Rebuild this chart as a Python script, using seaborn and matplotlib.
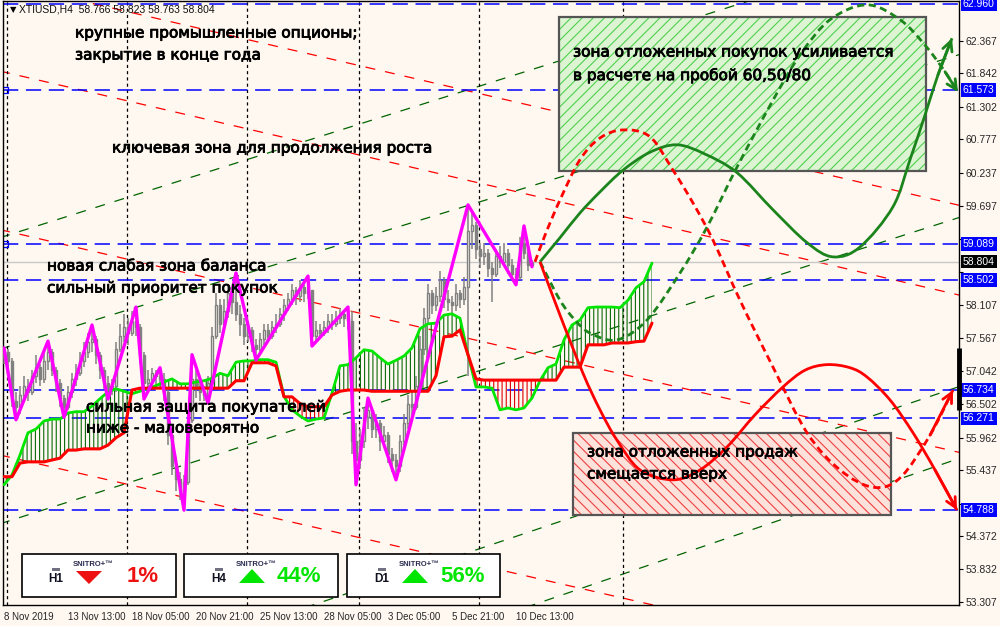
import matplotlib
matplotlib.use("Agg")
import matplotlib.pyplot as plt
import matplotlib.transforms as mtransforms
import matplotlib.patheffects as pe
from matplotlib.patches import Rectangle, Polygon, PathPatch
from matplotlib.path import Path
import numpy as np
import seaborn as sns

# ---------------- data ----------------
symbol_header = "XTIUSD,H4  58.766 58.823 58.763 58.804"

# H4 candles (bar index = position), open of each bar = previous close
first_open = 57.25
closes = [57.35, 57.20, 56.55, 56.45, 56.65, 56.80, 56.70, 56.95, 57.10, 56.90,
          57.20, 57.35, 57.05, 56.85, 56.60, 56.45, 56.70, 56.90, 57.00, 57.20,
          57.35, 57.50, 57.55, 57.30, 57.05, 56.85, 56.75, 56.80, 57.40, 57.60,
          57.75, 57.65, 57.85, 57.75, 57.30, 56.85, 56.90, 57.00, 56.95, 56.90,
          56.70, 56.00, 55.50, 55.30, 55.10, 55.25, 56.25, 56.90, 56.80, 56.70,
          56.65, 56.85, 57.60, 58.10, 57.80, 58.00, 58.30, 58.15, 57.95, 57.80,
          57.60, 57.70, 57.45, 57.40, 57.55, 57.70, 57.60, 57.75, 57.80, 57.95,
          58.10, 58.20, 58.35, 58.25, 58.40, 58.30, 58.35, 57.60, 57.70, 57.65,
          57.75, 57.85, 57.80, 57.90, 57.95, 57.90, 57.85, 55.90, 55.60, 55.90,
          56.30, 56.40, 56.10, 56.20, 55.90, 56.00, 55.70, 55.60, 55.50, 55.90,
          56.20, 56.50, 56.45, 56.80, 57.40, 57.90, 58.30, 58.10, 58.25, 58.50,
          58.20, 58.15, 58.10, 58.30, 58.20, 58.40, 59.30, 59.40, 59.00, 58.90,
          58.95, 58.70, 58.60, 58.90, 58.80, 58.95, 58.75, 58.60, 58.55, 59.10,
          58.95, 58.75, 58.804]
highs = [57.41, 57.40, 57.25, 56.70, 56.80, 56.95, 56.90, 57.05, 57.30, 57.15,
         57.35, 57.52, 57.40, 57.10, 56.90, 56.65, 56.80, 57.00, 57.15, 57.35,
         57.50, 57.65, 57.78, 57.60, 57.35, 57.10, 56.95, 56.90, 57.50, 57.80,
         57.95, 57.90, 58.00, 58.07, 57.80, 57.35, 57.05, 57.09, 57.05, 57.09,
         57.00, 56.75, 56.05, 55.65, 55.40, 55.35, 56.40, 57.30, 57.05, 56.90,
         56.80, 56.95, 57.75, 58.30, 58.20, 58.20, 58.45, 58.40, 58.62, 58.10,
         57.90, 57.85, 57.75, 57.55, 57.65, 57.80, 57.80, 57.85, 57.95, 58.05,
         58.20, 58.30, 58.45, 58.40, 58.50, 58.45, 58.57, 58.30, 57.85, 57.80,
         57.85, 57.95, 57.95, 58.00, 58.05, 58.00, 58.07, 58.00, 56.20, 56.10,
         56.45, 56.60, 56.45, 56.35, 56.25, 56.15, 56.05, 55.80, 55.70, 56.00,
         56.35, 56.65, 56.70, 56.95, 57.60, 58.05, 58.45, 58.35, 58.40, 58.65,
         58.55, 58.35, 58.25, 58.45, 58.35, 58.55, 59.72, 59.60, 59.45, 59.10,
         59.10, 59.00, 58.80, 59.00, 59.05, 59.10, 59.00, 58.85, 58.70, 59.20,
         59.38, 59.00, 58.823]
lows = [57.15, 57.00, 56.45, 56.25, 56.35, 56.55, 56.55, 56.65, 56.85, 56.80,
        56.85, 57.05, 56.95, 56.70, 56.45, 56.29, 56.40, 56.60, 56.80, 56.95,
        57.10, 57.25, 57.35, 57.15, 56.90, 56.75, 56.585, 56.65, 56.70, 57.35,
        57.50, 57.45, 57.60, 57.60, 57.15, 56.585, 56.70, 56.80, 56.80, 56.75,
        56.55, 55.85, 55.35, 55.10, 54.95, 54.79, 55.20, 56.20, 56.60, 56.55,
        56.55, 56.52, 56.80, 57.55, 57.65, 57.70, 57.90, 57.95, 57.85, 57.60,
        57.45, 57.50, 57.35, 57.215, 57.30, 57.45, 57.50, 57.55, 57.65, 57.75,
        57.85, 58.00, 58.10, 58.10, 58.15, 58.15, 58.20, 57.44, 57.50, 57.55,
        57.60, 57.65, 57.70, 57.75, 57.80, 57.75, 57.70, 55.70, 55.20, 55.45,
        55.80, 56.10, 55.95, 55.95, 55.75, 55.80, 55.55, 55.40, 55.28, 55.40,
        55.80, 56.10, 56.30, 56.40, 56.70, 57.30, 57.80, 57.95, 58.00, 58.15,
        58.05, 58.00, 57.95, 58.00, 58.05, 58.10, 56.95, 59.00, 58.85, 58.70,
        58.75, 58.55, 58.15, 58.55, 58.70, 58.75, 58.60, 58.50, 58.43, 58.50,
        58.85, 58.65, 58.72]

# zigzag pivots
zz_bar = [0, 3, 11, 15, 22, 26, 33, 35, 39, 45, 47, 51, 58, 63, 76, 77, 86, 88,
          91, 98, 116, 128, 130, 132]
zz_price = [57.41, 56.25, 57.52, 56.29, 57.78, 56.585, 58.07, 56.585, 57.09,
            54.79, 57.30, 56.52, 58.62, 57.215, 58.57, 57.44, 58.07, 55.20,
            56.60, 55.28, 59.72, 58.43, 59.38, 58.72]

# cloud spans, every 2nd bar from bar 0 to bar 162
span_bars = list(range(0, 163, 2))
span_green = [55.20, 55.36, 55.68, 56.04, 56.10, 56.23, 56.26, 56.26, 56.36, 56.38,
              56.38, 56.47, 56.59, 56.70, 56.75, 56.71, 56.67, 56.71, 56.76, 56.80,
              56.86, 56.91, 56.83, 56.83, 56.86, 56.88, 56.92, 57.00, 56.96, 57.18,
              57.20, 57.20, 57.22, 57.22, 57.18, 56.63, 56.41, 56.31, 56.23, 56.26,
              56.28, 56.68, 57.12, 57.14, 57.25, 57.38, 57.36, 57.25, 57.15, 57.21,
              57.28, 57.41, 57.72, 57.80, 57.81, 57.94, 57.96, 57.89, 57.30, 56.78,
              56.78, 56.76, 56.41, 56.44, 56.41, 56.44, 56.60, 56.88, 57.09, 57.15,
              57.54, 57.78, 57.86, 58.06, 58.07, 58.07, 58.07, 58.06, 58.18, 58.38,
              58.48, 58.78]
span_red = [55.33, 55.33, 55.55, 55.57, 55.57, 55.57, 55.60, 55.63, 55.76, 55.76,
            55.78, 55.78, 55.78, 55.84, 55.96, 56.04, 56.73, 56.76, 56.76, 56.76,
            56.76, 56.76, 56.76, 56.76, 56.76, 56.76, 56.76, 56.76, 56.76, 56.88,
            56.88, 57.17, 57.17, 57.17, 57.12, 56.62, 56.62, 56.51, 56.46, 56.46,
            56.46, 56.65, 56.71, 56.73, 56.73, 56.73, 56.71, 56.71, 56.71, 56.71,
            56.71, 56.71, 56.71, 56.71, 56.96, 57.59, 57.60, 57.70, 57.30, 56.91,
            56.89, 56.89, 56.89, 56.89, 56.89, 56.89, 56.89, 56.89, 56.89, 56.89,
            57.10, 57.10, 57.10, 57.46, 57.46, 57.46, 57.49, 57.49, 57.49, 57.51,
            57.52, 57.81]

# horizontal levels
blue_levels = [62.960, 61.573, 59.089, 58.502, 56.734, 56.271, 54.788]
last_price = 58.804
price_ticks = [62.367, 61.842, 61.302, 60.777, 60.237, 59.697, 59.172, 58.632,
               58.107, 57.567, 57.042, 56.502, 55.962, 55.437, 54.897, 54.372,
               53.832, 53.307]
covered_ticks = [59.172, 58.632, 54.897]   # hidden behind the level boxes

# channel lines: price at bar -1 and at bar 239
chan_bars = [-1, 239]
green_channels = [(59.19, 64.09), (57.39, 62.15), (54.57, 59.52),
                  (51.55, 56.79), (50.30, 55.63)]
red_channels = [(63.32, 59.71), (61.88, 58.26), (59.32, 55.72), (55.68, 52.12)]

# weekly separators (bar positions)
separators = [0.75, 30.75, 60.75, 88.75, 118.75, 154.75]

# time axis
time_ticks = [0, 16, 32, 48, 64, 80, 96, 112, 128]
time_labels = ["8 Nov 2019", "13 Nov 13:00", "18 Nov 05:00", "20 Nov 21:00",
               "25 Nov 13:00", "28 Nov 05:00", "3 Dec 05:00", "5 Dec 21:00",
               "10 Dec 13:00"]

# forecast scenarios
fc_green_bar = [134, 139, 144, 149, 154.75, 161.5, 168.25, 175.25, 183.25, 192.25,
                200.75, 207.25, 214, 222.25, 226.5, 230.25, 233.5, 237]
fc_green = [58.80, 59.19, 59.59, 59.93, 60.28, 60.57, 60.69, 60.54, 60.24, 59.64,
            59.11, 58.88, 59.04, 59.69, 60.45, 61.17, 61.82, 62.41]
fc_green_alt_bar = [134, 139, 142.75, 146.5, 153.25, 160.75, 169, 175.75, 183.25,
                    192.25, 199, 206.5, 215.75, 224, 230.25, 235.25, 238.5]
fc_green_alt = [58.80, 58.18, 57.86, 57.65, 57.54, 57.86, 58.62, 59.36, 60.33,
                61.41, 62.14, 62.71, 62.95, 62.71, 62.30, 61.87, 61.54]
fc_red_bar = [134, 139, 144.75, 149, 153.25, 159, 167.25, 174, 180.75, 187.75,
              194.75, 200.25, 205.75, 211.5, 215.75, 221.5, 227.25, 232.75, 238.25]
fc_red = [58.80, 57.94, 57.00, 56.41, 55.92, 55.44, 55.28, 55.44, 55.81, 56.33,
          56.78, 57.05, 57.14, 57.09, 56.94, 56.57, 56.04, 55.44, 54.79]
fc_red_alt_bar = [132.75, 135.25, 139, 144, 149, 154.75, 161.5, 167.25, 172.25,
                  177.25, 184, 192.25, 200.75, 209, 217.25, 224, 231.5, 237.25]
fc_red_alt = [58.80, 59.23, 59.80, 60.45, 60.80, 60.93, 60.82, 60.28, 59.75,
              59.15, 58.18, 57.10, 56.04, 55.44, 55.16, 55.31, 56.00, 56.73]

# zones: (bar_from, bar_to, price_low, price_high)
buy_zone = (138.75, 230.5, 60.27, 62.75)
sell_zone = (142.25, 221.75, 54.71, 56.04)

# signal panels
panel_tf = ["H1", "H4", "D1"]
panel_pct = ["1%", "44%", "56%"]
panel_up = [False, True, True]

# ---------------- style ----------------
sns.set_style("white")
plt.rcParams["font.family"] = ["DejaVu Sans"]
plt.rcParams["hatch.linewidth"] = 0.8

BG = "#fff8f0"
BLUE = "#0000ff"
GREEN = "#1c841c"
CH_GREEN = "#006400"
RED = "#ff0000"
GRAY = "#808080"
LIME = "#00e600"

fig = plt.figure(figsize=(10, 6.26), dpi=100, facecolor=BG)
ax = fig.add_axes([0.003, 0.0335, 0.956, 0.965])
ax.set_facecolor(BG)
ax.set_xlim(-0.25, 238.75)
ax.set_ylim(53.258, 63.013)

# channels
for a, b in green_channels:
    ax.plot(chan_bars, [a, b], color=CH_GREEN, lw=0.9, dashes=(8, 8), zorder=1)
for a, b in red_channels:
    ax.plot(chan_bars, [a, b], color=RED, lw=0.9, dashes=(8, 8), zorder=1)

# separators
for s in separators:
    ax.axvline(s, color="black", lw=0.9, dashes=(2.5, 2.5), zorder=1)

# levels
for lv in blue_levels:
    ax.axhline(lv, color=BLUE, lw=1.1, dashes=(10, 5), zorder=1.2)
ax.axhline(last_price, color="#c8c8c8", lw=1, zorder=1.1)
for lv in (61.573, 59.089):
    ax.plot([0.25], [lv], marker="s", ms=4, mfc="none", mec=BLUE, mew=0.9, zorder=2)

# zones
for zone, face, hatch_col, hatch in ((buy_zone, "#dcf4d2", "#4fd04f", "///"),
                                     (sell_zone, "#fde2dc", "#ee4040", "\\\\\\")):
    x0, x1, p0, p1 = zone
    ax.add_patch(Rectangle((x0, p0), x1 - x0, p1 - p0, facecolor=face,
                           edgecolor=hatch_col, hatch=hatch, lw=0, zorder=1.5))
    ax.add_patch(Rectangle((x0, p0), x1 - x0, p1 - p0, fill=False,
                           edgecolor="#555555", lw=1.6, zorder=1.6))

# cloud
sb = np.array(span_bars)
sg = np.array(span_green)
sr = np.array(span_red)
ax.fill_between(sb, sg, sr, where=sg >= sr, interpolate=True, facecolor="none",
                edgecolor="#0a6a0a", hatch="||||", lw=0, zorder=2)
ax.fill_between(sb, sg, sr, where=sr > sg, interpolate=True, facecolor="none",
                edgecolor="#dd0000", hatch="||||", lw=0, zorder=2)

# candles
opens = [first_open] + closes[:-1]
idx = np.arange(len(closes))
ax.vlines(idx, lows, highs, color=GRAY, lw=1.1, zorder=3)
o = np.array(opens)
c = np.array(closes)
bull = c >= o
ax.bar(idx[bull], (c - o)[bull], bottom=o[bull], width=0.65, facecolor=BG,
       edgecolor=GRAY, lw=1, zorder=3.1)
ax.bar(idx[~bull], (o - c)[~bull], bottom=c[~bull], width=0.65, facecolor=GRAY,
       edgecolor=GRAY, lw=1, zorder=3.1)

# span lines
sns.lineplot(x=span_bars, y=span_green, ax=ax, color=LIME, lw=2, zorder=4)
sns.lineplot(x=span_bars, y=span_red, ax=ax, color=RED, lw=2.2, zorder=4.1)

# zigzag
sns.lineplot(x=zz_bar, y=zz_price, ax=ax, color="#ff00ff", lw=2.4, zorder=5)


# forecasts: smooth curves through the read points (Catmull-Rom as Bezier path)
def smooth_path(xs, ys):
    p = np.column_stack([xs, ys]).astype(float)
    n = len(p)
    verts = [p[0]]
    codes = [Path.MOVETO]
    for i in range(n - 1):
        p0 = p[i - 1] if i > 0 else p[i]
        p1, p2 = p[i], p[i + 1]
        p3 = p[i + 2] if i + 2 < n else p[i + 1]
        verts += [p1 + (p2 - p0) / 6, p2 - (p3 - p1) / 6, p2]
        codes += [Path.CURVE4] * 3
    return Path(verts, codes)


dash = (0, (2.6, 1.6))
for xs, ys, col, ls in ((fc_green_bar, fc_green, GREEN, "-"),
                        (fc_green_alt_bar, fc_green_alt, GREEN, dash),
                        (fc_red_bar, fc_red, RED, "-"),
                        (fc_red_alt_bar, fc_red_alt, RED, dash)):
    ax.add_patch(PathPatch(smooth_path(xs, ys), fill=False, edgecolor=col, lw=2,
                           linestyle=ls, zorder=5, capstyle="butt"))
    ax.annotate("", xy=(xs[-1], ys[-1]), xytext=(xs[-2], ys[-2]),
                arrowprops=dict(arrowstyle="->,head_length=0.7,head_width=0.35",
                                color=col, lw=2, shrinkA=0, shrinkB=0),
                zorder=6, annotation_clip=False)

# axes formatting
for sp in ax.spines.values():
    sp.set_color("black")
    sp.set_linewidth(1)
ax.yaxis.tick_right()
ax.set_yticks(price_ticks)
ax.set_yticklabels(["" if v in covered_ticks else f"{v:.3f}" for v in price_ticks],
                   fontsize=7.5, family="Liberation Sans")
ax.tick_params(axis="y", direction="out", length=3, pad=2, color="black")
ax.set_xticks(time_ticks)
ax.set_xticklabels(time_labels, fontsize=7, family="Liberation Sans")
for lab in ax.get_xticklabels():
    lab.set_ha("left")
ax.tick_params(axis="x", direction="out", length=3, pad=2, color="black")
ax.set_xlabel("")
ax.set_ylabel("")
ax.grid(False)

# right-axis price boxes
blend = mtransforms.blended_transform_factory(ax.transAxes, ax.transData)
for lv in blue_levels:
    ax.text(1.004, lv, f"{lv:.3f}", transform=blend, va="center", ha="left",
            fontsize=7.5, family="Liberation Sans", color="white", clip_on=False,
            bbox=dict(boxstyle="square,pad=0.18", fc=BLUE, ec="none"), zorder=10)
ax.text(1.004, last_price, f"{last_price:.3f}", transform=blend, va="center",
        ha="left", fontsize=7.5, family="Liberation Sans", color="white",
        clip_on=False, bbox=dict(boxstyle="square,pad=0.18", fc="black", ec="none"),
        zorder=10)
ax.plot([1.0, 1.0], [57.41, 56.41], transform=blend, color="black", lw=3.5,
        clip_on=False, zorder=10, solid_capstyle="butt")


# ---------------- text annotations (figure pixels) ----------------
def ftext(x, y, s, **kw):
    fig.text(x / 1000, 1 - y / 626, s, **kw)


ftext(10, 10, "▼", fontsize=6, va="center", ha="left", color="black")
ftext(19, 10, symbol_header, fontsize=7.5, family="Liberation Sans", va="center",
      ha="left", color="#111111")

notes = [
    (75, 33, "крупные промышленные опционы;"),
    (75, 55, "закрытие в конце года"),
    (112, 148, "ключевая зона для продолжения роста"),
    (47, 266, "новая слабая зона баланса"),
    (47, 288, "сильный приоритет покупок"),
    (86, 407, "сильная защита покупателей"),
    (86, 428, "ниже - маловероятно"),
    (573, 52, "зона отложенных покупок усиливается"),
    (573, 75, "в расчете на пробой 60,50/80"),
    (587, 452, "зона отложенных продаж"),
    (587, 474, "смещается вверх"),
]
heavy = [pe.withStroke(linewidth=0.6, foreground="black")]
for x, y, s in notes:
    ftext(x, y, s, fontsize=11, va="center", ha="left", color="black", zorder=20,
          path_effects=heavy)

# signal panels
box_left = [22, 184, 347]
box_right = [176, 338, 500]
tf_x = [56, 219, 382]
tri_x = [89, 252, 415]
snitro_x = [93, 256, 419]
pct_x = [143, 299, 463]
for i in range(3):
    x0, x1 = box_left[i], box_right[i]
    fig.add_artist(Rectangle((x0 / 1000, 1 - 597 / 626), (x1 - x0) / 1000, 43 / 626,
                             transform=fig.transFigure, facecolor="white",
                             edgecolor="black", lw=1.2, zorder=30))
    fig.add_artist(Rectangle(((tf_x[i] - 4) / 1000, 1 - 571 / 626), 8 / 1000, 3 / 626,
                             transform=fig.transFigure, facecolor="#707080",
                             edgecolor="none", zorder=31))
    ftext(tf_x[i], 579, panel_tf[i], fontsize=8.5, fontweight="bold",
          family="Liberation Sans", ha="center", va="center", color="#101020", zorder=31)
    ftext(snitro_x[i], 564, "SNITRO+™", fontsize=5.5, fontweight="bold",
          family="Liberation Sans", ha="center", va="center", color="#2a2a50", zorder=31)
    col = LIME if panel_up[i] else "#ee1111"
    tx = tri_x[i]
    if panel_up[i]:
        pts = [(tx - 13, 583), (tx + 13, 583), (tx, 569)]
    else:
        pts = [(tx - 13, 571), (tx + 13, 571), (tx, 584)]
    fig.add_artist(Polygon([(px / 1000, 1 - py / 626) for px, py in pts],
                           closed=True, transform=fig.transFigure, facecolor=col,
                           edgecolor="none", zorder=31))
    ftext(pct_x[i], 576, panel_pct[i], fontsize=16, fontweight="bold",
          family="Liberation Sans", ha="center", va="center", color=col, zorder=31)

fig.savefig("out.png", dpi=100, facecolor=BG)
